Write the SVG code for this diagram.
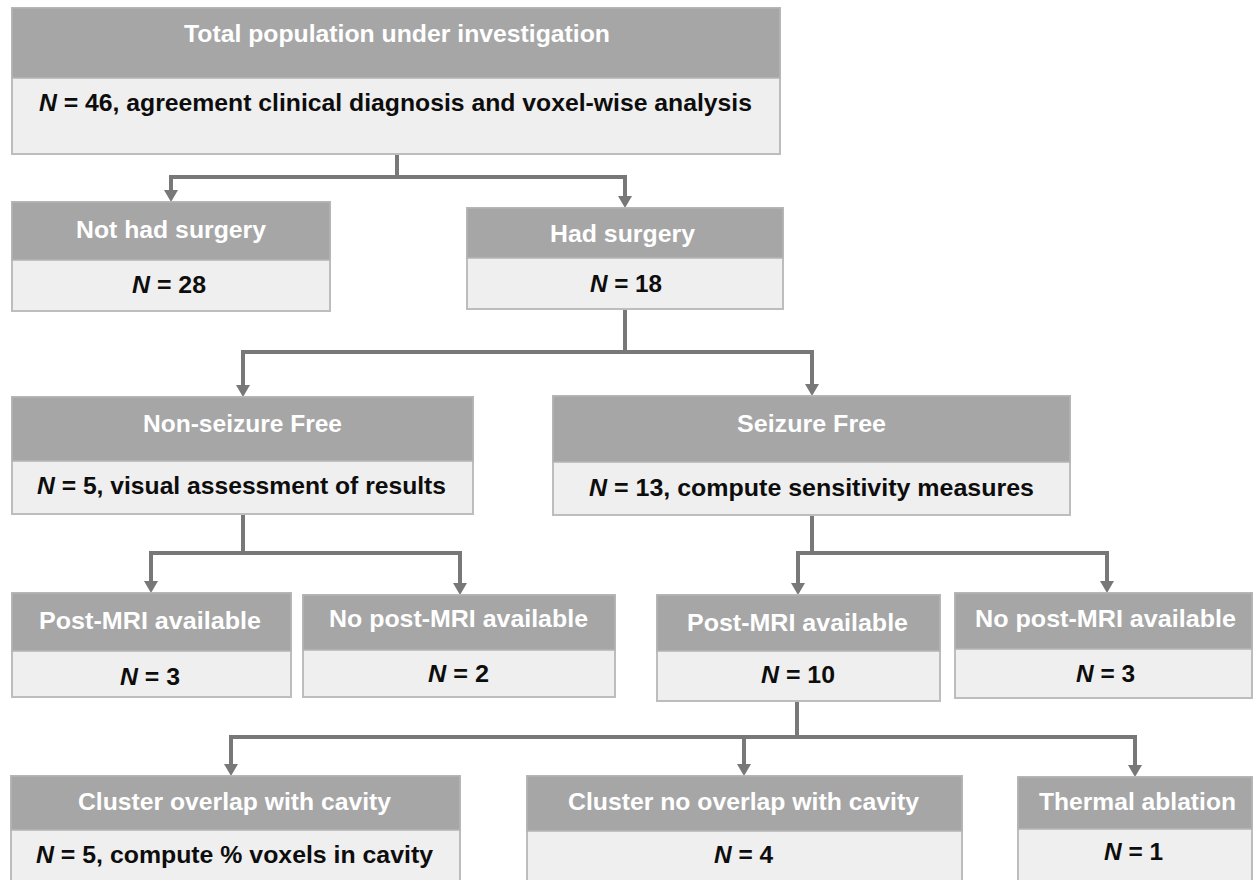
<svg xmlns="http://www.w3.org/2000/svg" width="1254" height="880" viewBox="0 0 1254 880">
<defs>
<style>
.body{fill:#efefef;stroke:#bdbdbd;stroke-width:2}
.head{fill:#a6a6a6;stroke:#b4b4b4;stroke-width:1.5}
.ht{font-family:"Liberation Sans",Arial,sans-serif;font-weight:bold;font-size:24px;fill:#ffffff}
.bt{font-family:"Liberation Sans",Arial,sans-serif;font-weight:bold;font-size:24px;fill:#0d0d0d}
.it{font-style:italic}
.conn{fill:none;stroke:#787878;stroke-width:4;stroke-linejoin:miter}
</style>
<marker id="arr" markerUnits="userSpaceOnUse" markerWidth="12" markerHeight="14" viewBox="0 0 12 14" refX="1" refY="7" orient="auto">
<path d="M0,0 L12,7 L0,14 Z" fill="#787878"/>
</marker>
</defs>
<rect width="1254" height="880" fill="#ffffff"/>

<g id="connectors">
<path class="conn" d="M397,154 V177 H171 V191" marker-end="url(#arr)"/>
<path class="conn" d="M397,177 H625 V197" marker-end="url(#arr)"/>
<path class="conn" d="M625,309 V352 H243 V386" marker-end="url(#arr)"/>
<path class="conn" d="M625,352 H812 V385" marker-end="url(#arr)"/>
<path class="conn" d="M243,514 V553 H151 V582" marker-end="url(#arr)"/>
<path class="conn" d="M243,553 H460 V584" marker-end="url(#arr)"/>
<path class="conn" d="M812,515 V553 H798 V584" marker-end="url(#arr)"/>
<path class="conn" d="M812,553 H1107 V582" marker-end="url(#arr)"/>
<path class="conn" d="M797,701 V737 H231 V765" marker-end="url(#arr)"/>
<path class="conn" d="M744,737 V765" marker-end="url(#arr)"/>
<path class="conn" d="M797,737 H1135 V766" marker-end="url(#arr)"/>
</g>

<g id="n-total">
<rect class="body" x="12" y="8" width="768" height="146"/>
<rect class="head" x="12" y="8" width="768" height="70"/>
<text class="ht" x="184" y="42" textLength="426" lengthAdjust="spacingAndGlyphs">Total population under investigation</text>
<text class="bt" x="39" y="111" textLength="713" lengthAdjust="spacingAndGlyphs"><tspan class="it">N</tspan> = 46, agreement clinical diagnosis and voxel-wise analysis</text>
</g>

<g id="n-nosurgery">
<rect class="body" x="12" y="202" width="318" height="109"/>
<rect class="head" x="12" y="202" width="318" height="58"/>
<text class="ht" x="76" y="238" textLength="190" lengthAdjust="spacingAndGlyphs">Not had surgery</text>
<text class="bt" x="132" y="293" textLength="74" lengthAdjust="spacingAndGlyphs"><tspan class="it">N</tspan> = 28</text>
</g>

<g id="n-surgery">
<rect class="body" x="467" y="208" width="316" height="101"/>
<rect class="head" x="467" y="208" width="316" height="50"/>
<text class="ht" x="550" y="242" textLength="145" lengthAdjust="spacingAndGlyphs">Had surgery</text>
<text class="bt" x="590" y="292" textLength="72" lengthAdjust="spacingAndGlyphs"><tspan class="it">N</tspan> = 18</text>
</g>

<g id="n-nonseizurefree">
<rect class="body" x="12" y="397" width="461" height="117"/>
<rect class="head" x="12" y="397" width="461" height="64"/>
<text class="ht" x="143" y="432" textLength="199" lengthAdjust="spacingAndGlyphs">Non-seizure Free</text>
<text class="bt" x="37" y="494" textLength="409" lengthAdjust="spacingAndGlyphs"><tspan class="it">N</tspan> = 5, visual assessment of results</text>
</g>

<g id="n-seizurefree">
<rect class="body" x="553" y="396" width="517" height="119"/>
<rect class="head" x="553" y="396" width="517" height="66"/>
<text class="ht" x="737" y="432" textLength="149" lengthAdjust="spacingAndGlyphs">Seizure Free</text>
<text class="bt" x="589" y="496" textLength="445" lengthAdjust="spacingAndGlyphs"><tspan class="it">N</tspan> = 13, compute sensitivity measures</text>
</g>

<g id="n-postmri-nsf">
<rect class="body" x="12" y="593" width="279" height="104"/>
<rect class="head" x="12" y="593" width="279" height="58"/>
<text class="ht" x="39" y="629" textLength="222" lengthAdjust="spacingAndGlyphs">Post-MRI available</text>
<text class="bt" x="120" y="685" textLength="60" lengthAdjust="spacingAndGlyphs"><tspan class="it">N</tspan> = 3</text>
</g>

<g id="n-nopostmri-nsf">
<rect class="body" x="303" y="595" width="312" height="102"/>
<rect class="head" x="303" y="595" width="312" height="55"/>
<text class="ht" x="329" y="627" textLength="259" lengthAdjust="spacingAndGlyphs">No post-MRI available</text>
<text class="bt" x="428" y="682" textLength="61" lengthAdjust="spacingAndGlyphs"><tspan class="it">N</tspan> = 2</text>
</g>

<g id="n-postmri-sf">
<rect class="body" x="657" y="595" width="283" height="106"/>
<rect class="head" x="657" y="595" width="283" height="56"/>
<text class="ht" x="687" y="631" textLength="221" lengthAdjust="spacingAndGlyphs">Post-MRI available</text>
<text class="bt" x="761" y="683" textLength="74" lengthAdjust="spacingAndGlyphs"><tspan class="it">N</tspan> = 10</text>
</g>

<g id="n-nopostmri-sf">
<rect class="body" x="955" y="593" width="297" height="105"/>
<rect class="head" x="955" y="593" width="297" height="56"/>
<text class="ht" x="975" y="627" textLength="261" lengthAdjust="spacingAndGlyphs">No post-MRI available</text>
<text class="bt" x="1076" y="682" textLength="59" lengthAdjust="spacingAndGlyphs"><tspan class="it">N</tspan> = 3</text>
</g>

<g id="n-overlap">
<rect class="body" x="11" y="776" width="449" height="112"/>
<rect class="head" x="11" y="776" width="449" height="54"/>
<text class="ht" x="78" y="810" textLength="313" lengthAdjust="spacingAndGlyphs">Cluster overlap with cavity</text>
<text class="bt" x="36" y="863" textLength="397" lengthAdjust="spacingAndGlyphs"><tspan class="it">N</tspan> = 5, compute % voxels in cavity</text>
</g>

<g id="n-nooverlap">
<rect class="body" x="527" y="776" width="435" height="112"/>
<rect class="head" x="527" y="776" width="435" height="55"/>
<text class="ht" x="568" y="810" textLength="351" lengthAdjust="spacingAndGlyphs">Cluster no overlap with cavity</text>
<text class="bt" x="714" y="863" textLength="59" lengthAdjust="spacingAndGlyphs"><tspan class="it">N</tspan> = 4</text>
</g>

<g id="n-thermal">
<rect class="body" x="1018" y="777" width="234" height="111"/>
<rect class="head" x="1018" y="777" width="234" height="52"/>
<text class="ht" x="1039" y="810" textLength="197" lengthAdjust="spacingAndGlyphs">Thermal ablation</text>
<text class="bt" x="1104" y="860" textLength="59" lengthAdjust="spacingAndGlyphs"><tspan class="it">N</tspan> = 1</text>
</g>
</svg>
